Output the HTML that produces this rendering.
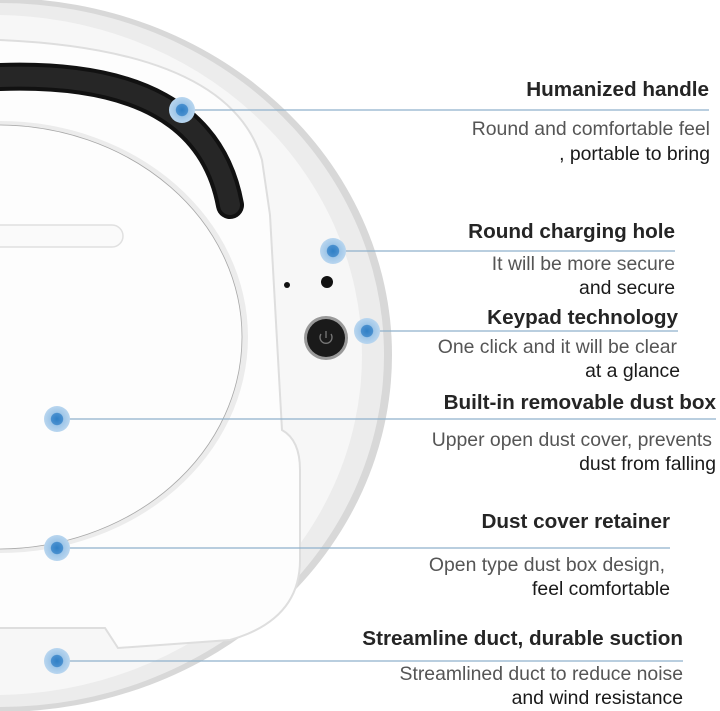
<!DOCTYPE html>
<html><head><style>
html,body{margin:0;padding:0;background:#fff;}
svg{display:block;}
text{font-family:"Liberation Sans",Arial,sans-serif;}
.h{font-size:20.7px;font-weight:bold;fill:#252525;}
.d{font-size:19.4px;fill:#555;}
.e{font-size:19.4px;fill:#1a1a1a;}
</style></head><body>
<svg width="720" height="711" viewBox="0 0 720 711" xmlns="http://www.w3.org/2000/svg">
<defs>
<radialGradient id="dot"><stop offset="0" stop-color="#2f7fc6"/><stop offset="0.45" stop-color="#4a90cf"/><stop offset="0.5" stop-color="#9fc6e8"/><stop offset="1" stop-color="#b9d6ef"/></radialGradient>
</defs>
<rect width="720" height="711" fill="#fff"/>
<!-- outer disc -->
<ellipse cx="0" cy="355" rx="392" ry="357" fill="#d8d8d8"/>
<ellipse cx="0" cy="355" rx="384" ry="352" fill="#ececec"/>
<ellipse cx="-6" cy="355" rx="368" ry="340" fill="#f7f7f7"/>
<!-- panel outline right -->
<path d="M0,40 Q230,50 262,160 L270,215 L282,430 Q300,440 300,470 L300,560 Q300,620 230,640 L118,648 L105,628 L0,628" fill="#fdfdfd" stroke="#dedede" stroke-width="2"/>
<!-- dust box -->
<ellipse cx="0" cy="337" rx="248" ry="216" fill="#ececec"/>
<ellipse cx="-2" cy="337" rx="244" ry="212" fill="#fdfdfd" stroke="#a8a8a8" stroke-width="0.8"/>
<!-- handle slot -->
<rect x="-20" y="225" width="143" height="22" rx="11" fill="#fafafa" stroke="#e0e0e0" stroke-width="1.5"/>
<!-- handle -->
<path d="M0,77 Q205,70 230,205" fill="none" stroke="#111" stroke-width="28" stroke-linecap="round"/>
<path d="M0,77 Q205,70 230,205" fill="none" stroke="#262626" stroke-width="20" stroke-linecap="round"/>
<!-- holes & button -->
<circle cx="327" cy="282" r="6" fill="#111"/>
<circle cx="287" cy="285" r="3" fill="#111"/>
<circle cx="326" cy="338" r="22" fill="#999"/>
<circle cx="326" cy="338" r="19" fill="#1a1a1a"/>
<path d="M321,334 A6,6 0 1 0 331,334" fill="none" stroke="#777" stroke-width="1.3"/>
<line x1="326" y1="331" x2="326" y2="338" stroke="#777" stroke-width="1.3"/>
<!-- lines -->
<g stroke="#8fb1cc" stroke-width="1.2">
<line x1="183" y1="110" x2="709" y2="110"/>
<line x1="333" y1="251" x2="675" y2="251"/>
<line x1="367" y1="331" x2="678" y2="331"/>
<line x1="57" y1="419" x2="716" y2="419"/>
<line x1="57" y1="548" x2="670" y2="548"/>
<line x1="57" y1="661" x2="683" y2="661"/>
</g>
<g fill="url(#dot)">
<circle cx="182" cy="110" r="13"/>
<circle cx="333" cy="251" r="13"/>
<circle cx="367" cy="331" r="13"/>
<circle cx="57" cy="419" r="13"/>
<circle cx="57" cy="548" r="13"/>
<circle cx="57" cy="661" r="13"/>
</g>
<!-- text -->
<g text-anchor="end">
<text class="h" x="709" y="96">Humanized handle</text>
<text class="d" x="710" y="135">Round and comfortable feel</text>
<text class="e" x="710" y="160">, portable to bring</text>
<text class="h" x="675" y="238">Round charging hole</text>
<text class="d" x="675" y="270">It will be more secure</text>
<text class="e" x="675" y="294">and secure</text>
<text class="h" x="678" y="324">Keypad technology</text>
<text class="d" x="677" y="353">One click and it will be clear</text>
<text class="e" x="680" y="377">at a glance</text>
<text class="h" x="716" y="409">Built-in removable dust box</text>
<text class="d" x="712" y="446">Upper open dust cover, prevents</text>
<text class="e" x="716" y="470">dust from falling</text>
<text class="h" x="670" y="528">Dust cover retainer</text>
<text class="d" x="665" y="571">Open type dust box design,</text>
<text class="e" x="670" y="595">feel comfortable</text>
<text class="h" x="683" y="645">Streamline duct, durable suction</text>
<text class="d" x="683" y="680">Streamlined duct to reduce noise</text>
<text class="e" x="683" y="704">and wind resistance</text>
</g>
</svg>
</body></html>
